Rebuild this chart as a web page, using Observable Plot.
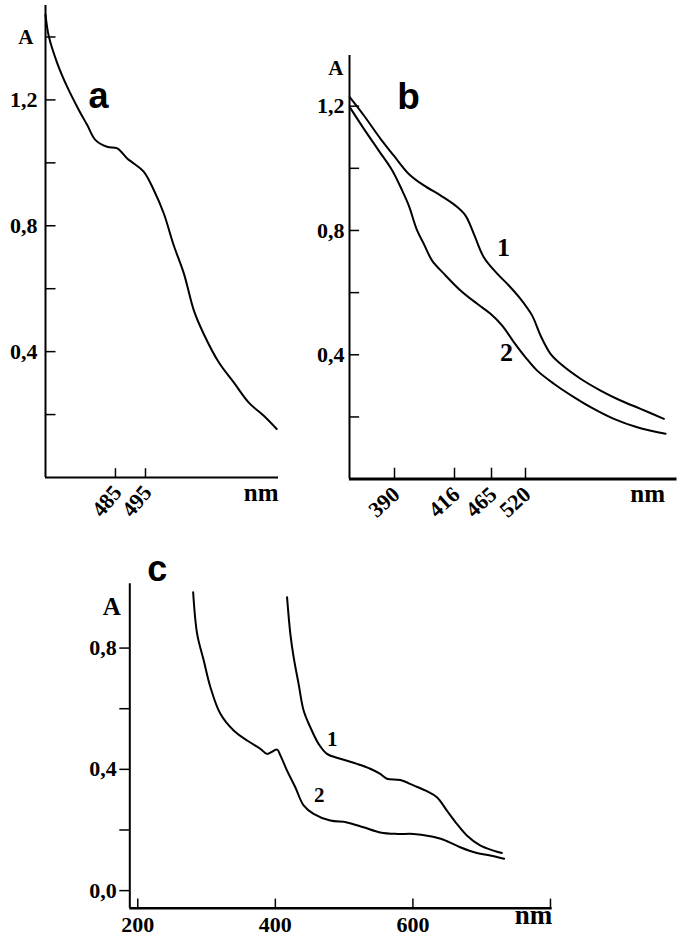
<!DOCTYPE html>
<html><head><meta charset="utf-8">
<script src="https://cdn.jsdelivr.net/npm/d3@7"></script>
<script src="https://cdn.jsdelivr.net/npm/@observablehq/plot@0.6"></script>
<style>
html,body{margin:0;padding:0;background:#fff;}
#fig{position:relative;width:685px;height:940px;background:#fff;overflow:hidden;}
#fig svg{position:absolute;}
</style></head><body><div id="fig"></div>
<script>
// ---------- Panel a ----------
const aWavelength = [461.7, 462.8, 465.6, 468.9, 472.8, 475.6, 478.3, 482.2, 485.6, 488.9, 491.1, 494.4, 497.8, 501.1, 504.4, 507.8, 511.1, 514.4, 519.4, 524.4, 529.4, 534.4, 538.7];
const aAbsorbance = [1.471, 1.402, 1.317, 1.242, 1.168, 1.120, 1.073, 1.051, 1.046, 1.014, 0.998, 0.972, 0.913, 0.839, 0.738, 0.648, 0.531, 0.456, 0.366, 0.302, 0.238, 0.196, 0.154];
const aTickX = [485, 495];
const aTickY = [0.2, 0.4, 0.6, 0.8, 1.0, 1.2, 1.4];
const aLabelY = [0.4, 0.8, 1.2];

// ---------- Panel b ----------
const b1Wavelength = [370.1, 376.4, 383.8, 389.7, 396.2, 402.7, 409.9, 417.3, 430.6, 441.6, 454.8, 474.2, 493.0, 511.9, 530.8, 544.3, 560.5, 576.6, 609.0, 641.4, 673.7, 706.1, 743.8];
const b1Absorbance = [1.229, 1.170, 1.095, 1.041, 0.982, 0.945, 0.913, 0.880, 0.848, 0.789, 0.714, 0.661, 0.623, 0.580, 0.526, 0.462, 0.403, 0.371, 0.323, 0.285, 0.253, 0.226, 0.194];
const b2Wavelength = [370.1, 376.4, 383.0, 389.0, 393.3, 396.2, 399.8, 402.7, 406.3, 411.4, 423.9, 446.1, 463.7, 482.3, 501.1, 520.0, 538.9, 565.8, 598.2, 630.5, 662.9, 700.7, 746.5];
const b2Absorbance = [1.197, 1.127, 1.057, 0.993, 0.929, 0.880, 0.800, 0.757, 0.703, 0.661, 0.607, 0.564, 0.532, 0.494, 0.441, 0.392, 0.349, 0.307, 0.264, 0.226, 0.194, 0.167, 0.146];
const bTickX = [390, 416, 465, 520];
const bTickY = [0.2, 0.4, 0.6, 0.8, 1.0, 1.2];
const bLabelY = [0.4, 0.8, 1.2];
const bCurveNames = ["1", "2"];
const bCurveLabelX = [484.4, 489.3];
const bCurveLabelY = [0.745, 0.407];

// ---------- Panel c ----------
const c1Wavelength = [417.0, 421.8, 426.6, 433.8, 441.1, 450.8, 462.9, 475.1, 494.4, 518.7, 538.0, 552.5, 562.2, 581.6, 600.9, 620.3, 634.9, 649.4, 663.9, 678.4, 697.7, 717.1, 729.3];
const c1Absorbance = [0.968, 0.847, 0.770, 0.682, 0.594, 0.539, 0.484, 0.451, 0.435, 0.418, 0.402, 0.385, 0.369, 0.365, 0.347, 0.328, 0.308, 0.264, 0.220, 0.182, 0.149, 0.132, 0.124];
const c2Wavelength = [280.5, 286.3, 295.9, 305.6, 320.1, 339.4, 358.9, 378.2, 387.9, 402.5, 407.3, 417.0, 429.0, 441.1, 455.6, 479.9, 504.1, 528.3, 552.5, 576.8, 600.9, 625.1, 644.4, 668.7, 693.0, 712.3, 732.6];
const c2Absorbance = [0.984, 0.847, 0.759, 0.671, 0.583, 0.528, 0.495, 0.468, 0.451, 0.465, 0.446, 0.396, 0.341, 0.281, 0.253, 0.231, 0.225, 0.209, 0.192, 0.187, 0.187, 0.179, 0.168, 0.143, 0.124, 0.116, 0.105];
const cTickX = [200, 400, 600, 800];
const cLabelX = [200, 400, 600];
const cTickY = [0, 0.2, 0.4, 0.6, 0.8];
const cLabelY = [0, 0.4, 0.8];
const cCurveNames = ["1", "2"];
const cCurveLabelX = [482.8, 463.9];
const cCurveLabelY = [0.498, 0.314];

// ---------- helpers ----------
const serif = "'Liberation Serif', 'Times New Roman', serif";
const sans = "'Liberation Sans', Arial, sans-serif";
const fmt = d => d.toFixed(1).replace(".", ",");
const toRows = (xs, ys, s) => xs.map((x, i) => ({x, y: ys[i], s}));
const boldSerif = (size) => ({fontFamily: serif, fontWeight: "bold", fontSize: size, fill: "black"});
const fig = document.getElementById("fig");
function place(svg, left, top) { svg.style.left = left + "px"; svg.style.top = top + "px"; fig.appendChild(svg); }
const svgStyle = {background: "transparent", overflow: "visible", color: "black"};

// ---------- Panel a ----------
const aX = [461.7, 539.3], aY = [0, 1.5];
place(Plot.plot({
  width: 300, height: 530,
  marginLeft: 45, marginRight: 22, marginTop: 5, marginBottom: 53,
  x: {domain: aX}, y: {domain: aY},
  style: svgStyle,
  marks: [
    Plot.ruleX([aX[0]], {stroke: "black", strokeWidth: 2}),
    Plot.ruleY([aY[0]], {stroke: "black", strokeWidth: 2}),
    Plot.ruleY(aTickY, {y: d => d, x1: aX[0], x2: aX[0] + 3.5, stroke: "black", strokeWidth: 1.5}),
    Plot.ruleX(aTickX, {x: d => d, y1: aY[0], y2: aY[0] + 0.028, stroke: "black", strokeWidth: 1.5}),
    Plot.axisY(aLabelY, {tickSize: 0, tickPadding: 8, tickFormat: fmt, label: null, ...boldSerif(22)}),
    Plot.axisX(aTickX, {tickSize: 0, tickPadding: 11, tickRotate: -50, dx: 2, label: null, ...boldSerif(22)}),
    Plot.line(toRows(aWavelength, aAbsorbance, "a"), {x: "x", y: "y", curve: "catmull-rom", stroke: "black", strokeWidth: 2}),
    Plot.text(["A"], {x: aX[0], y: 1.398, textAnchor: "end", lineAnchor: "middle", dx: -12, ...boldSerif(21)}),
    Plot.text(["nm"], {frameAnchor: "bottom-right", textAnchor: "end", lineAnchor: "bottom", dy: 23, ...boldSerif(25)}),
    Plot.text(["a"], {frameAnchor: "top-left", textAnchor: "middle", lineAnchor: "bottom", dx: 53, dy: 102, fontFamily: sans, fontWeight: "bold", fontSize: 36, fill: "black"})
  ]
}), 0, 0);

// ---------- Panel b ----------
const bXDomain = [370, 390, 416, 465, 520, 765];
const bXRange = [39, 84, 144, 181, 215, 366.5];
const bY = [0, 1.363];
const bRows = [...toRows(b1Wavelength, b1Absorbance, "1"), ...toRows(b2Wavelength, b2Absorbance, "2")];
place(Plot.plot({
  width: 375, height: 530,
  marginLeft: 39, marginRight: 8.5, marginTop: 55, marginBottom: 51.4,
  x: {type: "linear", domain: bXDomain, range: bXRange},
  y: {domain: bY},
  style: svgStyle,
  marks: [
    Plot.ruleX([bXDomain[0]], {stroke: "black", strokeWidth: 2}),
    Plot.ruleY([bY[0]], {stroke: "black", strokeWidth: 3}),
    Plot.ruleY(bTickY, {y: d => d, x1: bXDomain[0], x2: bXDomain[0] + 4.5, stroke: "black", strokeWidth: 1.5}),
    Plot.ruleX(bTickX, {x: d => d, y1: bY[0], y2: bY[0] + 0.035, stroke: "black", strokeWidth: 1.5}),
    Plot.axisY(bLabelY, {tickSize: 0, tickPadding: 5, tickFormat: fmt, label: null, ...boldSerif(22)}),
    Plot.axisX(bTickX, {tickSize: 0, tickPadding: 12, tickRotate: -42, dx: 2, label: null, ...boldSerif(22)}),
    Plot.line(bRows, {x: "x", y: "y", z: "s", curve: "catmull-rom", stroke: "black", strokeWidth: 2}),
    Plot.text(bCurveNames, {x: (d, i) => bCurveLabelX[i], y: (d, i) => bCurveLabelY[i], text: d => d, textAnchor: "middle", lineAnchor: "middle", ...boldSerif(26)}),
    Plot.text(["A"], {x: bXDomain[0], y: 1.321, textAnchor: "end", lineAnchor: "middle", dx: -6, ...boldSerif(21)}),
    Plot.text(["nm"], {frameAnchor: "bottom-right", textAnchor: "end", lineAnchor: "bottom", dx: -12, dy: 23, ...boldSerif(25)}),
    Plot.text(["b"], {frameAnchor: "top-left", textAnchor: "middle", lineAnchor: "bottom", dx: 59, dy: 53, fontFamily: sans, fontWeight: "bold", fontSize: 37, fill: "black"})
  ]
}), 310, 0);

// ---------- Panel c ----------
const cX = [188.4, 802.5], cY = [-0.058, 1.012];
const cRows = [...toRows(c1Wavelength, c1Absorbance, "1"), ...toRows(c2Wavelength, c2Absorbance, "2")];
place(Plot.plot({
  width: 560, height: 400,
  marginLeft: 69.3, marginRight: 68.3, marginTop: 43.3, marginBottom: 32.3,
  x: {domain: cX}, y: {domain: cY},
  style: svgStyle,
  marks: [
    Plot.ruleX([cX[0]], {stroke: "black", strokeWidth: 2}),
    Plot.ruleY([cY[0]], {stroke: "black", strokeWidth: 2.5}),
    Plot.ruleX(cTickX, {x: d => d, y1: cY[0], y2: cY[0] + 0.03, stroke: "black", strokeWidth: 1.5}),
    Plot.axisY(cTickY, {tickSize: 10, tickPadding: 3, strokeWidth: 1.5, tickFormat: d => cLabelY.includes(d) ? fmt(d) : "", label: null, ...boldSerif(22)}),
    Plot.axisX(cLabelX, {tickSize: 0, tickPadding: 8, label: null, ...boldSerif(22)}),
    Plot.line(cRows, {x: "x", y: "y", z: "s", curve: "catmull-rom", stroke: "black", strokeWidth: 2}),
    Plot.text(cCurveNames, {x: (d, i) => cCurveLabelX[i], y: (d, i) => cCurveLabelY[i], text: d => d, textAnchor: "middle", lineAnchor: "middle", ...boldSerif(21)}),
    Plot.text(["A"], {x: cX[0], y: 0.934, textAnchor: "end", lineAnchor: "middle", dx: -9, ...boldSerif(25)}),
    Plot.text(["nm"], {frameAnchor: "bottom-right", textAnchor: "end", lineAnchor: "bottom", dy: 16, ...boldSerif(27)}),
    Plot.text(["c"], {frameAnchor: "top-left", textAnchor: "middle", lineAnchor: "bottom", dx: 27.4, dy: -3.3, fontFamily: sans, fontWeight: "bold", fontSize: 36, fill: "black"})
  ]
}), 60, 540);
</script>
</body></html>
